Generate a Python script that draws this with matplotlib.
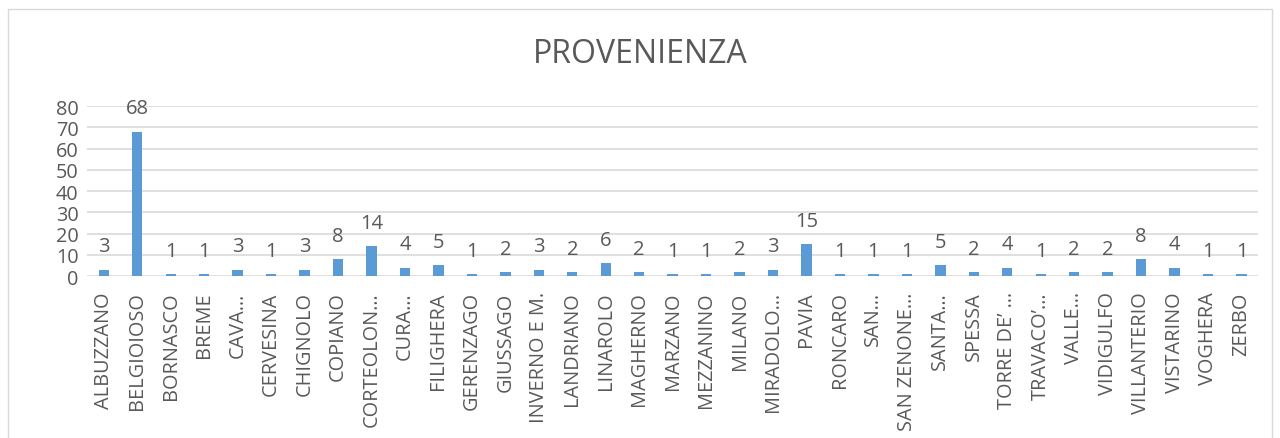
import matplotlib.pyplot as plt
from matplotlib.patches import Rectangle

plt.rcParams['font.family'] = ['Open Sans', 'DejaVu Sans']

# comuni di provenienza e numero di persone
comuni = ['ALBUZZANO', 'BELGIOIOSO', 'BORNASCO', 'BREME', 'CAVA…', 'CERVESINA',
          'CHIGNOLO', 'COPIANO', 'CORTEOLON…', 'CURA…', 'FILIGHERA', 'GERENZAGO',
          'GIUSSAGO', 'INVERNO E M.', 'LANDRIANO', 'LINAROLO', 'MAGHERNO', 'MARZANO',
          'MEZZANINO', 'MILANO', 'MIRADOLO…', 'PAVIA', 'RONCARO', 'SAN…',
          'SAN ZENONE…', 'SANTA…', 'SPESSA', 'TORRE DE’ …', 'TRAVACO’…', 'VALLE…',
          'VIDIGULFO', 'VILLANTERIO', 'VISTARINO', 'VOGHERA', 'ZERBO']
persone = [3, 68, 1, 1, 3, 1, 3, 8, 14, 4,
           5, 1, 2, 3, 2, 6, 2, 1, 1, 2,
           3, 15, 1, 1, 1, 5, 2, 4, 1, 2,
           2, 8, 4, 1, 1]

testo = '#595959'
fig = plt.figure(figsize=(12.8, 4.39), dpi=100)
ax = fig.add_axes([0.068, 0.369, 0.915, 0.387])

x = range(len(comuni))
ax.bar(x, persone, width=0.31, color='#5B9BD5', zorder=3)
for i, v in zip(x, persone):
    ax.annotate(str(v), (i, v), xytext=(0, 9.5), textcoords='offset points',
                ha='center', va='bottom', fontsize=14.5, color=testo)

ax.set_xlim(-0.5, len(comuni) - 0.5)
ax.set_ylim(0, 80)
ax.set_yticks(range(0, 81, 10))
ax.set_xticks(list(x))
ax.set_xticklabels(comuni, rotation=90, fontsize=14.3, color=testo)
ax.tick_params(axis='y', labelsize=14.3, labelcolor=testo, length=0, pad=6)
ax.tick_params(axis='x', length=0, pad=11)
ax.grid(axis='y', color='#D9D9D9', linewidth=1.2, zorder=0)
for s in ax.spines.values():
    s.set_visible(False)

fig.text(0.5, 0.875, 'PROVENIENZA', ha='center', va='center', fontsize=23, color=testo)
fig.patches.append(Rectangle((0.006, -0.01), 0.988, 0.988, transform=fig.transFigure,
                             fill=False, edgecolor='#D9D9D9', linewidth=1))

fig.savefig('out.png', dpi=100)
